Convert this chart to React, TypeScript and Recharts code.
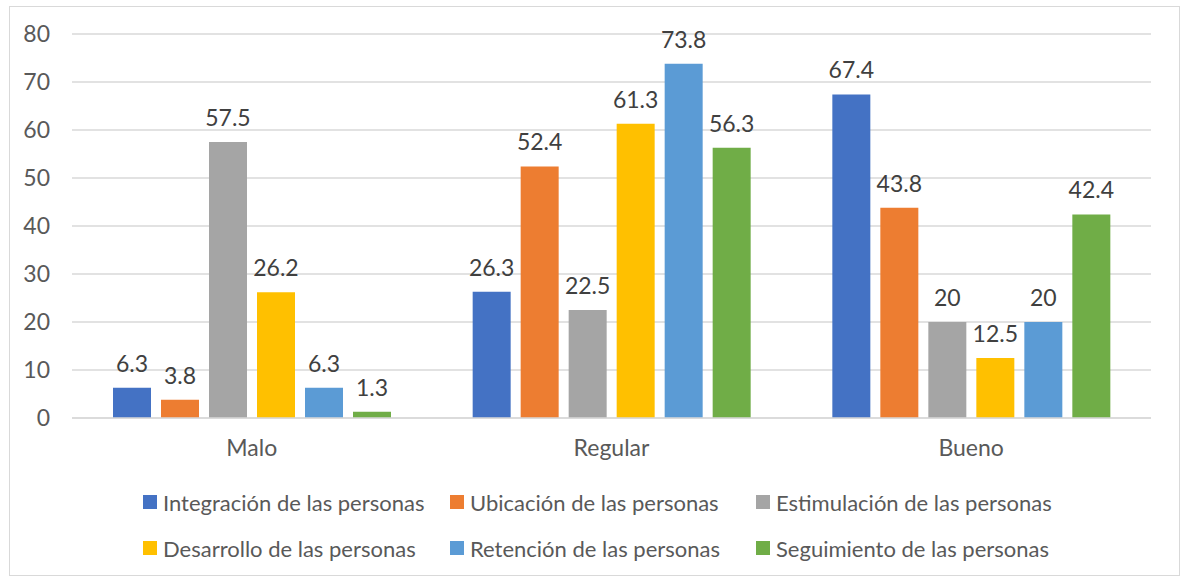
import { BarChart, Bar, XAxis, YAxis, CartesianGrid, Legend, LabelList } from 'recharts';

const categories = ['Malo', 'Regular', 'Bueno'];
const integracion = [6.3, 26.3, 67.4];
const ubicacion = [3.8, 52.4, 43.8];
const estimulacion = [57.5, 22.5, 20];
const desarrollo = [26.2, 61.3, 12.5];
const retencion = [6.3, 73.8, 20];
const seguimiento = [1.3, 56.3, 42.4];
const yTicks = [0, 10, 20, 30, 40, 50, 60, 70, 80];

const series = [
  { key: 'integracion', name: 'Integración de las personas', color: '#4472C4', values: integracion },
  { key: 'ubicacion', name: 'Ubicación de las personas', color: '#ED7D31', values: ubicacion },
  { key: 'estimulacion', name: 'Estimulación de las personas', color: '#A5A5A5', values: estimulacion },
  { key: 'desarrollo', name: 'Desarrollo de las personas', color: '#FFC000', values: desarrollo },
  { key: 'retencion', name: 'Retención de las personas', color: '#5B9BD5', values: retencion },
  { key: 'seguimiento', name: 'Seguimiento de las personas', color: '#70AD47', values: seguimiento },
];

const data = categories.map((c, i) => {
  const row: any = { name: c };
  series.forEach((s) => { row[s.key] = s.values[i]; });
  return row;
});

const FONT = 'Lato, "Open Sans", sans-serif';

function LegendBox() {
  return (
    <div style={{ height: 110, paddingTop: 32, boxSizing: 'border-box', fontFamily: FONT }}>
      <div style={{ display: 'grid', gridTemplateColumns: '307px 306px 320px', rowGap: 22, marginLeft: 143 }}>
        {series.map((s) => (
          <div key={s.key} style={{ display: 'flex', alignItems: 'center', height: 24, color: '#595959', fontSize: 22, whiteSpace: 'nowrap' }}>
            <span style={{ width: 14, height: 14, background: s.color, marginRight: 6, display: 'inline-block', flexShrink: 0 }} />
            <span>{s.name}</span>
          </div>
        ))}
      </div>
    </div>
  );
}

export default function App() {
  return (
    <div style={{ position: 'absolute', left: 0, top: 0, width: 1181, height: 579, background: '#fff', fontFamily: FONT }}>
      <div style={{ position: 'absolute', left: 9, top: 6, width: 1169, height: 568, border: '1px solid #D9D9D9' }} />
      <BarChart
        width={1181}
        height={579}
        data={data}
        margin={{ top: 34, right: 30, left: 0, bottom: 11 }}
        barCategoryGap="11.4%"
        barGap={10}
      >
        <CartesianGrid vertical={false} stroke="#D9D9D9" strokeWidth={1.5} />
        <XAxis
          dataKey="name"
          height={40}
          axisLine={{ stroke: '#D9D9D9', strokeWidth: 1.5 }}
          tickLine={false}
          tickSize={0}
          tickMargin={22}
          tick={{ fill: '#595959', fontSize: 23, fontFamily: FONT }}
        />
        <YAxis
          width={72}
          domain={[0, 80]}
          ticks={yTicks}
          axisLine={false}
          tickLine={false}
          tickSize={0}
          tickMargin={22}
          tick={{ fill: '#595959', fontSize: 23, fontFamily: FONT }}
        />
        <Legend verticalAlign="bottom" wrapperStyle={{ left: 0, width: 1181 }} content={<LegendBox />} />
        {series.map((s) => (
          <Bar key={s.key} dataKey={s.key} name={s.name} fill={s.color} isAnimationActive={false}>
            <LabelList dataKey={s.key} position="top" offset={16} fill="#404040" fontSize={23} fontFamily={FONT} />
          </Bar>
        ))}
      </BarChart>
    </div>
  );
}
